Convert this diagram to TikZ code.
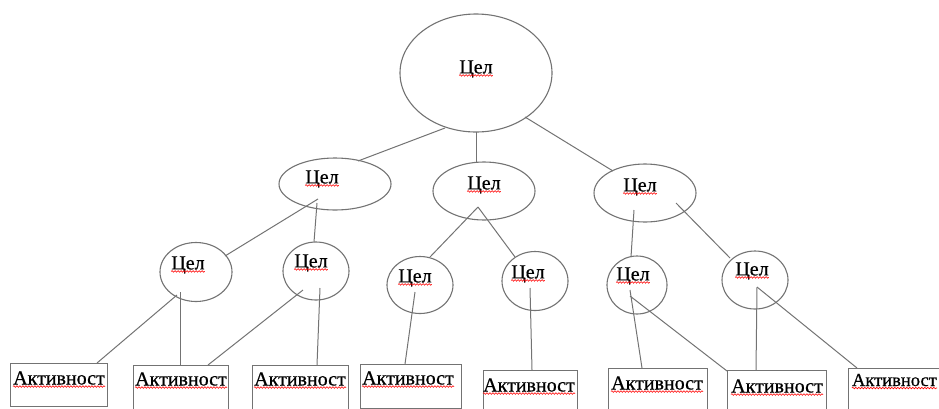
\documentclass[tikz,border=0pt]{standalone}
\usepackage{fontspec}
\setmainfont{Liberation Serif}
\newfontfamily\heavyserif[FakeBold=0.6]{Liberation Serif}
\usetikzlibrary{shapes.geometric,decorations.pathmorphing}
\definecolor{linegray}{RGB}{115,115,115}
\begin{document}
\begin{tikzpicture}[x=1pt,y=-1pt,
  ell/.style={draw=linegray, line width=1.1pt, ellipse, inner sep=0pt},
  rbox/.style={draw=linegray, line width=1.1pt, rectangle, inner sep=0pt, anchor=north west},
  conn/.style={draw=linegray, line width=1pt},
  lbl/.style={font=\heavyserif\fontsize{20}{20}\selectfont, inner sep=0pt, text=black},
  squig/.style={draw=red, line width=0.6pt, decorate, decoration={snake, amplitude=0.8pt, segment length=3pt}}
]
\useasboundingbox (0,0) rectangle (939,408);
% ellipses
\node[ell, minimum width=152pt, minimum height=118pt] (g0) at (476,73) {};
\node[ell, minimum width=112pt, minimum height=52pt] (g1) at (335,184) {};
\node[ell, minimum width=102pt, minimum height=58pt] (g2) at (484,191) {};
\node[ell, minimum width=102pt, minimum height=58pt] (g3) at (645,193) {};
\node[ell, minimum width=72pt, minimum height=59pt] (h1) at (196,272) {};
\node[ell, minimum width=66pt, minimum height=58pt] (h2) at (316,271) {};
\node[ell, minimum width=66pt, minimum height=57pt] (h3) at (420,285) {};
\node[ell, minimum width=66pt, minimum height=59pt] (h4) at (535,281) {};
\node[ell, minimum width=60pt, minimum height=58pt] (h5) at (637,285) {};
\node[ell, minimum width=66pt, minimum height=58pt] (h6) at (755,280) {};
% boxes
\node[rbox, minimum width=97pt, minimum height=43pt] (b1) at (10,363) {};
\node[rbox, minimum width=95pt, minimum height=44pt] (b2) at (133,365) {};
\node[rbox, minimum width=96pt, minimum height=44pt] (b3) at (252,365) {};
\node[rbox, minimum width=101pt, minimum height=44pt] (b4) at (360,364) {};
\node[rbox, minimum width=94pt, minimum height=44pt] (b5) at (483,370) {};
\node[rbox, minimum width=99pt, minimum height=44pt] (b6) at (608,368) {};
\node[rbox, minimum width=99pt, minimum height=44pt] (b7) at (727,370) {};
\node[rbox, minimum width=99pt, minimum height=44pt] (b8) at (848,368) {};
% labels
\node[lbl] (tg0) at (476,69) {Цел};
\node[lbl] (tg1) at (322,179) {Цел};
\node[lbl] (tg2) at (484,185) {Цел};
\node[lbl] (tg3) at (640,187) {Цел};
\node[lbl] (th1) at (188,265) {Цел};
\node[lbl] (th2) at (311,263) {Цел};
\node[lbl] (th3) at (415,278) {Цел};
\node[lbl] (th4) at (528,274) {Цел};
\node[lbl] (th5) at (633,276) {Цел};
\node[lbl] (th6) at (752,271) {Цел};
\node[lbl] (tb1) at (59,378) {Активност};
\node[lbl] (tb2) at (181,379) {Активност};
\node[lbl] (tb3) at (300,379) {Активност};
\node[lbl] (tb4) at (408,378) {Активност};
\node[lbl] (tb5) at (529,385) {Активност};
\node[lbl] (tb6) at (657,383) {Активност};
\node[lbl] (tb7) at (777,386) {Активност};
\node[lbl, font=\heavyserif\fontsize{18.5}{18.5}\selectfont, anchor=east] (tb8) at (937,380) {Активност};
% spell-check squiggles
\foreach \t in {tg0,tg1,tg2,tg3,th1,th2,th3,th4,th5,th6,tb1,tb2,tb3,tb4,tb5,tb6,tb7,tb8}
  \draw[squig] ([yshift=-2pt]\t.base west) -- ([yshift=-2pt]\t.base east);
% connection points
\coordinate (p01) at (445,128); \coordinate (q01) at (358,161);
\coordinate (p02) at (476,132); \coordinate (q02) at (476,162);
\coordinate (p03) at (525,117); \coordinate (q03) at (613,171);
\coordinate (p11) at (318,199); \coordinate (q11) at (225,256);
\coordinate (p12) at (317,203); \coordinate (q12) at (314,242);
\coordinate (p21) at (478,207); \coordinate (q21) at (430,257);
\coordinate (q22) at (515,257);
\coordinate (p31) at (634,210); \coordinate (q31) at (631,257);
\coordinate (p32) at (676,203); \coordinate (q32) at (730,258);
\coordinate (r11) at (177,295); \coordinate (s11) at (97,363);
\coordinate (r12) at (180,292); \coordinate (s12) at (180,365);
\coordinate (r21) at (303,290); \coordinate (s21) at (208,365);
\coordinate (r22) at (320,288); \coordinate (s22) at (317,365);
\coordinate (r31) at (415,292); \coordinate (s31) at (405,364);
\coordinate (r41) at (530,288); \coordinate (s41) at (532,370);
\coordinate (r51) at (630,290); \coordinate (s51) at (642,368);
\coordinate (r52) at (630,296); \coordinate (s52) at (727,371);
\coordinate (r61) at (757,287); \coordinate (s61) at (756,370);
\coordinate (s62) at (857,368);
% connectors
\draw[conn] (p01) -- (q01);
\draw[conn] (p02) -- (q02);
\draw[conn] (p03) -- (q03);
\draw[conn] (p11) -- (q11);
\draw[conn] (p12) -- (q12);
\draw[conn] (p21) -- (q21);
\draw[conn] (p21) -- (q22);
\draw[conn] (p31) -- (q31);
\draw[conn] (p32) -- (q32);
\draw[conn] (r11) -- (s11);
\draw[conn] (r12) -- (s12);
\draw[conn] (r21) -- (s21);
\draw[conn] (r22) -- (s22);
\draw[conn] (r31) -- (s31);
\draw[conn] (r41) -- (s41);
\draw[conn] (r51) -- (s51);
\draw[conn] (r52) -- (s52);
\draw[conn] (r61) -- (s61);
\draw[conn] (r61) -- (s62);
\end{tikzpicture}
\end{document}
